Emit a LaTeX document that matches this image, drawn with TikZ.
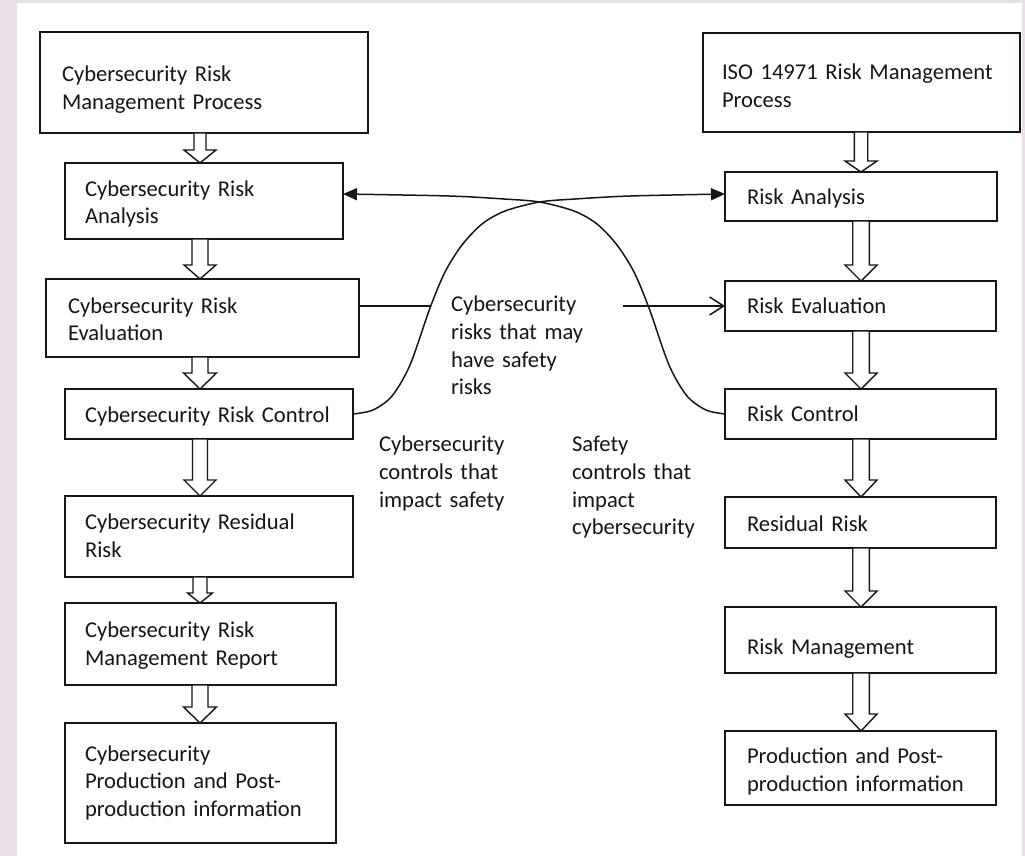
\documentclass[tikz,border=0pt]{standalone}
\usepackage{fontspec}
\setmainfont{Carlito}
\usetikzlibrary{arrows.meta,calc}
\definecolor{pinkbg}{RGB}{232,224,230}
\definecolor{ink}{RGB}{22,22,26}
\newcommand\diagfont{\fontsize{22.6}{27.7}\selectfont}
\tikzset{
  box/.style={draw=ink, line width=1.6pt, rectangle, inner sep=0pt, outer sep=0pt,
              align=left, font=\diagfont, text=ink},
  lbl/.style={inner ysep=0pt, align=left, font=\diagfont, text=ink,
              text height=0pt, text depth=0pt},
  curve/.style={line width=1.5pt, draw=ink, -{Triangle[length=14pt,width=12pt]}},
  fatarrow/.style={draw=ink, fill=white, line width=1.4pt, line join=miter},
  plainline/.style={line width=1.5pt, draw=ink}
}
% #1 name, #2 x1, #3 y1, #4 x2, #5 y2, #6 text left, #7 first baseline, #8 text
\newcommand\mkbox[8]{%
  \pgfmathsetmacro\mkcx{(#2+#4)/2}\pgfmathsetmacro\mkcy{(#3+#5)/2}%
  \pgfmathsetmacro\mkbw{#4-#2}\pgfmathsetmacro\mkbh{#5-#3}%
  \pgfmathsetmacro\mktw{2*(\mkcx-#6)}%
  \pgfmathsetmacro\mkth{max(0,2*(#7-\mkcy))}\pgfmathsetmacro\mktd{max(0,2*(\mkcy-#7))}%
  \node[box, minimum width=\mkbw pt, minimum height=\mkbh pt, text width=\mktw pt,
        text height=\mkth pt, text depth=\mktd pt] (#1) at (\mkcx,\mkcy) {#8};}
% #1 from, #2 to, #3 head length, #4 shaft half width, #5 head half width
\newcommand\blockarrow[5]{%
  \draw[fatarrow] let \p1=(#1), \p2=(#2) in
    (\x1-#4pt,\y1) -- (\x1+#4pt,\y1) -- (\x1+#4pt,\y2+#3pt) -- (\x1+#5pt,\y2+#3pt)
    -- (\x1,\y2) -- (\x1-#5pt,\y2+#3pt) -- (\x1-#4pt,\y2+#3pt) -- cycle;}
\begin{document}
\begin{tikzpicture}[x=1pt,y=-1pt]
\useasboundingbox (0,0) rectangle (1025,856);
\fill[pinkbg] (0,0) rectangle (1025,856);
\fill[white] (17,3) rectangle (1022,856);

% left column
\mkbox{b1}{40}{32}{368}{133}{62}{82}{\mbox{Cybersecurity Risk}\\\mbox{Management Process}}
\mkbox{b2}{65}{163}{343}{239}{85}{196}{\mbox{Cybersecurity Risk}\\\mbox{Analysis}}
\mkbox{b3}{46}{279}{359}{357}{68}{313}{\mbox{Cybersecurity Risk}\\\mbox{Evaluation}}
\mkbox{b4}{65}{389}{353}{439}{85}{422}{\mbox{Cybersecurity Risk Control}}
\mkbox{b5}{65}{496}{353}{577}{85}{529.5}{\mbox{Cybersecurity Residual}\\\mbox{Risk}}
\mkbox{b6}{65}{603}{336}{685}{85}{637.5}{\mbox{Cybersecurity Risk}\\\mbox{Management Report}}
\mkbox{b7}{65}{723}{336}{843}{85}{761}{\mbox{Cybersecurity}\\\mbox{Production and Post-}\\\mbox{production information}}

% right column
\mkbox{r1}{703}{33}{1020}{132}{722}{80}{\mbox{ISO 14971 Risk Management}\\\mbox{Process}}
\mkbox{r2}{725}{172}{997}{221}{747}{204}{\mbox{Risk Analysis}}
\mkbox{r3}{725}{281}{996}{331}{747}{313.5}{\mbox{Risk Evaluation}}
\mkbox{r4}{725}{389}{996}{439}{747}{421.5}{\mbox{Risk Control}}
\mkbox{r5}{725}{497}{996}{548}{747}{531}{\mbox{Residual Risk}}
\mkbox{r6}{725}{607}{996}{673}{747}{654}{\mbox{Risk Management}}
\mkbox{r7}{725}{731}{996}{805}{747}{763.5}{\mbox{Production and Post-}\\\mbox{production information}}

% middle labels
\node[lbl, text width=151pt, inner xsep=21pt] (m1) at (526.5,311.7)
  {Cybersecurity\\risks that may\\have safety\\risks};
\node[lbl, text width=150pt] (m2) at (454,451.7)
  {Cybersecurity\\controls that\\impact safety};
\node[lbl, text width=150pt] (m3) at (647,451.7)
  {Safety\\controls that\\impact\\cybersecurity};

% block arrows
\coordinate (lax) at (200,0);
\coordinate (rax) at (861,0);
\blockarrow{b1.south -| lax}{b2.north -| lax}{13}{6}{16}
\blockarrow{b2.south -| lax}{b3.north -| lax}{14}{8}{16}
\blockarrow{b3.south -| lax}{b4.north -| lax}{16}{8}{16.5}
\blockarrow{b4.south -| lax}{b5.north -| lax}{16}{7.5}{16}
\blockarrow{b5.south -| lax}{b6.north -| lax}{10}{7}{12.5}
\blockarrow{b6.south -| lax}{b7.north -| lax}{16}{8}{16.5}
\blockarrow{r1.south -| rax}{r2.north -| rax}{11}{6.7}{16}
\blockarrow{r2.south -| rax}{r3.north -| rax}{16}{8.3}{16}
\blockarrow{r3.south -| rax}{r4.north -| rax}{16}{8.3}{16}
\blockarrow{r4.south -| rax}{r5.north -| rax}{17}{8.3}{16}
\blockarrow{r5.south -| rax}{r6.north -| rax}{16}{8.3}{16}
\blockarrow{r6.south -| rax}{r7.north -| rax}{17}{8.3}{16}

% evaluation connector, broken by its label
\draw[plainline] (b3.east |- r3.west) -- (m1.west |- r3.west);
\draw[plainline, -{Straight Barb[length=14pt,width=18pt]}] (m1.east |- r3.west) -- (r3.west);

% crossing curves
\coordinate (ay) at ([yshift=2.5pt]r2.west);
\draw[curve] plot[smooth] coordinates {(b4.east) (373,410) (392,396) (410,365) (430,308)
  (445,272) (462,245) (482,224) (505,211) (539.5,202) (575,199) (630,196) (ay)};
\draw[curve] plot[smooth] coordinates {(r4.west) (706,410) (687,396) (669,365) (649,308)
  (634,272) (617,245) (597,224) (574,211) (539.5,202) (504,199) (449,196) (b2.east |- ay)};
\end{tikzpicture}
\end{document}
